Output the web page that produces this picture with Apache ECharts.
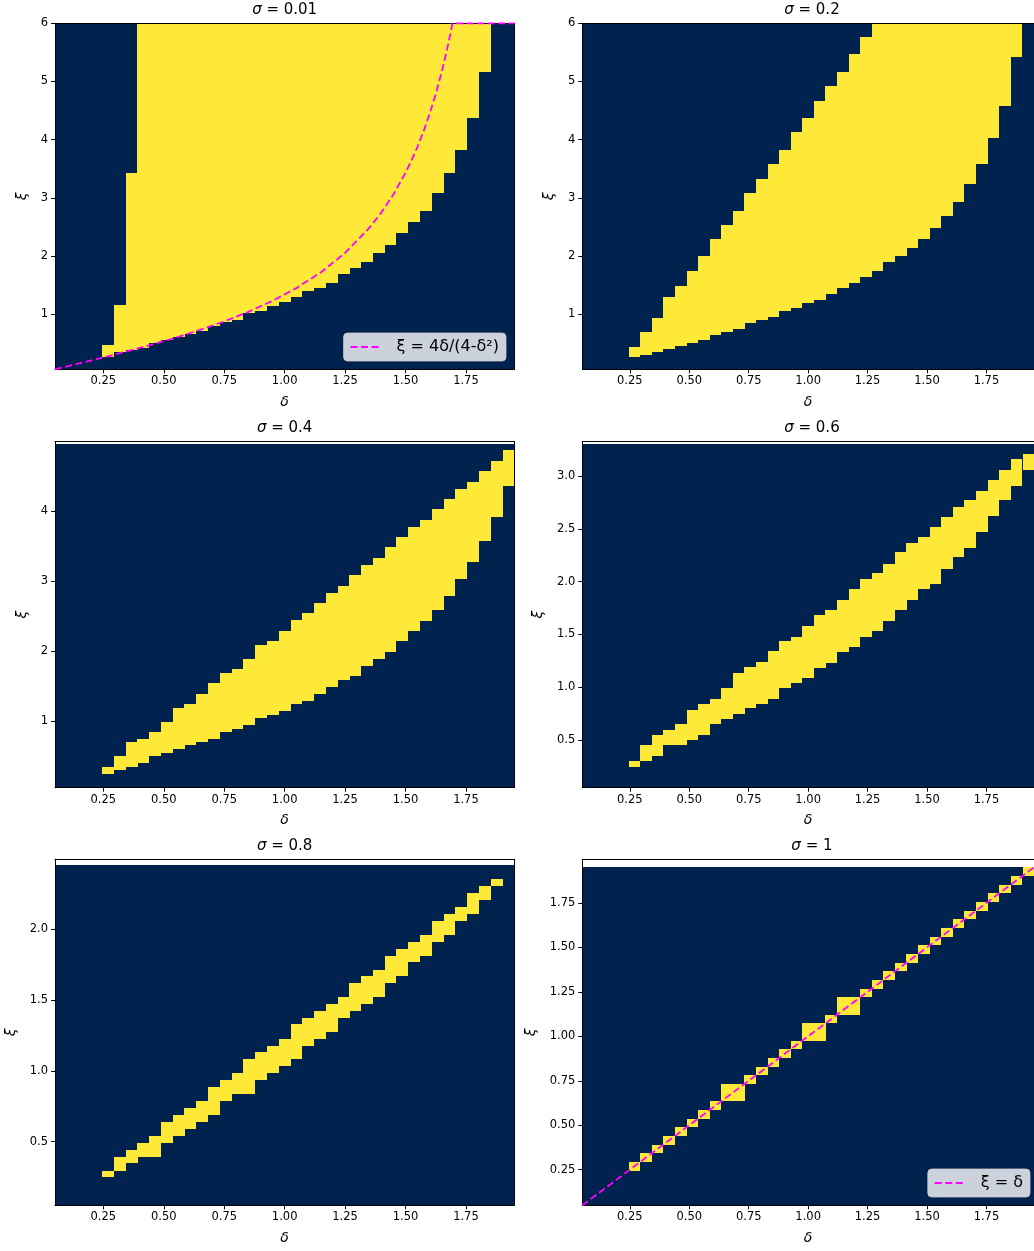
<!DOCTYPE html>
<html>
<head>
<meta charset="utf-8">
<script src="https://cdn.jsdelivr.net/npm/echarts@6/dist/echarts.min.js"></script>
<style>
  html, body { margin: 0; padding: 0; background: #ffffff; }
  #chart { width: 1034px; height: 1251px; }
</style>
</head>
<body>
<div id="chart"></div>
<script>
// Column centres of the delta grid (39 columns spanning 0.05 .. 1.95)
const delta = [0.074, 0.123, 0.172, 0.221, 0.269, 0.318, 0.367, 0.415, 0.464, 0.513,
               0.562, 0.610, 0.659, 0.708, 0.756, 0.805, 0.854, 0.903, 0.951, 1.000,
               1.049, 1.097, 1.146, 1.195, 1.244, 1.292, 1.341, 1.390, 1.438, 1.487,
               1.536, 1.585, 1.633, 1.682, 1.731, 1.779, 1.828, 1.877, 1.926];

const sigmaLabels = ['0.01', '0.2', '0.4', '0.6', '0.8', '1'];

// Feasible band [low, high] of xi for each delta column (null = empty column)
const xiLow001  = [null, null, null, null, 0.26, 0.34, 0.39, 0.42, 0.50, 0.55, 0.60, 0.66, 0.71, 0.79, 0.86, 0.90, 1.01, 1.06, 1.14, 1.20,
                   1.29, 1.40, 1.44, 1.54, 1.69, 1.80, 1.89, 2.05, 2.19, 2.39, 2.59, 2.78, 3.08, 3.43, 3.82, 4.37, 5.17, null, null];
const xiHigh001 = [null, null, null, null, 0.46, 1.15, 3.43, 6, 6, 6, 6, 6, 6, 6, 6, 6, 6, 6, 6, 6,
                   6, 6, 6, 6, 6, 6, 6, 6, 6, 6, 6, 6, 6, 6, 6, 6, 6, null, null];

const xiLow02  = [null, null, null, null, 0.26, 0.30, 0.35, 0.40, 0.45, 0.50, 0.55, 0.645, 0.70, 0.75, 0.85, 0.90, 0.95, 1.05, 1.10, 1.19,
                  1.25, 1.35, 1.44, 1.54, 1.64, 1.74, 1.89, 1.99, 2.14, 2.29, 2.48, 2.68, 2.93, 3.23, 3.58, 4.03, 4.57, 5.42, null];
const xiHigh02 = [null, null, null, null, 0.44, 0.70, 0.94, 1.29, 1.49, 1.74, 1.99, 2.29, 2.535, 2.78, 3.08, 3.33, 3.58, 3.82, 4.13, 4.37,
                  4.67, 4.92, 5.16, 5.47, 5.76, 6, 6, 6, 6, 6, 6, 6, 6, 6, 6, 6, 6, 6, null];

const xiLow04  = [null, null, null, null, 0.25, 0.30, 0.35, 0.40, 0.50, 0.55, 0.60, 0.66, 0.70, 0.75, 0.84, 0.89, 0.94, 1.05, 1.09, 1.14,
                  1.24, 1.29, 1.39, 1.49, 1.59, 1.64, 1.79, 1.89, 1.99, 2.14, 2.28, 2.43, 2.58, 2.78, 3.03, 3.27, 3.57, 3.91, 4.36];
const xiHigh04 = [null, null, null, null, 0.35, 0.50, 0.70, 0.75, 0.84, 0.99, 1.19, 1.24, 1.39, 1.54, 1.69, 1.74, 1.89, 2.08, 2.14, 2.29,
                  2.44, 2.54, 2.68, 2.83, 2.93, 3.08, 3.22, 3.33, 3.48, 3.62, 3.77, 3.87, 4.02, 4.17, 4.31, 4.41, 4.56, 4.71, 4.86];

const xiLow06  = [null, null, null, null, 0.25, 0.30, 0.35, 0.45, 0.45, 0.50, 0.55, 0.65, 0.70, 0.75, 0.80, 0.84, 0.89, 0.99, 1.04, 1.09,
                  1.18, 1.235, 1.335, 1.38, 1.48, 1.53, 1.63, 1.73, 1.83, 1.93, 1.98, 2.12, 2.23, 2.32, 2.47, 2.62, 2.77, 2.91, 3.06];
const xiHigh06 = [null, null, null, null, 0.30, 0.45, 0.55, 0.60, 0.65, 0.79, 0.84, 0.89, 0.99, 1.14, 1.19, 1.24, 1.34, 1.44, 1.48, 1.58,
                  1.68, 1.73, 1.83, 1.93, 2.03, 2.08, 2.17, 2.28, 2.37, 2.42, 2.52, 2.61, 2.71, 2.77, 2.86, 2.96, 3.06, 3.16, 3.21];

const xiLow08  = [null, null, null, null, 0.25, 0.295, 0.347, 0.394, 0.394, 0.493, 0.542, 0.592, 0.639, 0.688, 0.784, 0.836, 0.836, 0.935, 0.982, 1.031,
                  1.081, 1.177, 1.226, 1.276, 1.375, 1.424, 1.473, 1.523, 1.619, 1.668, 1.767, 1.814, 1.913, 1.962, 2.061, 2.108, 2.207, 2.306, null];
const xiHigh08 = [null, null, null, null, 0.295, 0.394, 0.444, 0.493, 0.542, 0.636, 0.686, 0.735, 0.784, 0.883, 0.933, 0.982, 1.081, 1.130, 1.177, 1.226,
                  1.328, 1.375, 1.424, 1.473, 1.523, 1.619, 1.668, 1.715, 1.814, 1.864, 1.913, 1.962, 2.061, 2.108, 2.158, 2.256, 2.306, 2.355, null];

const xiLow1  = [null, null, null, null, 0.245, 0.294, 0.342, 0.391, 0.440, 0.488, 0.537, 0.586, 0.635, 0.635, 0.732, 0.781, 0.829, 0.878, 0.927, 0.976,
                 0.976, 1.073, 1.122, 1.122, 1.219, 1.268, 1.317, 1.365, 1.414, 1.463, 1.512, 1.560, 1.609, 1.658, 1.706, 1.755, 1.804, 1.853, 1.901];
const xiHigh1 = [null, null, null, null, 0.294, 0.342, 0.391, 0.440, 0.488, 0.537, 0.586, 0.635, 0.732, 0.732, 0.781, 0.829, 0.878, 0.927, 0.976, 1.073,
                 1.073, 1.122, 1.219, 1.219, 1.268, 1.317, 1.365, 1.414, 1.463, 1.512, 1.560, 1.609, 1.658, 1.706, 1.755, 1.804, 1.853, 1.901, 1.950];

// Axis limits and extent of the image data
const deltaRange = [0.05, 1.95];
const xiMin = 0.05;
const xiMax = [6, 6, 4.985, 3.325, 2.495, 1.995];
const xiExtentTop = [6, 6, 4.95, 3.30, 2.455, 1.95];

// Tick values
const xTicks = [0.25, 0.50, 0.75, 1.00, 1.25, 1.50, 1.75];
const yTicks001 = [1, 2, 3, 4, 5, 6];
const yTicks02 = [1, 2, 3, 4, 5, 6];
const yTicks04 = [1, 2, 3, 4];
const yTicks06 = [0.5, 1.0, 1.5, 2.0, 2.5, 3.0];
const yTicks08 = [0.5, 1.0, 1.5, 2.0];
const yTicks1 = [0.25, 0.50, 0.75, 1.00, 1.25, 1.50, 1.75];

// Reference curves
const curveName = 'ξ = 4δ/(4-δ²)';
const curveDelta = [0.05, 0.15, 0.25, 0.35, 0.45, 0.55, 0.65, 0.75, 0.85, 0.95, 1.05, 1.15, 1.25, 1.35, 1.40,
                    1.45, 1.50, 1.525, 1.55, 1.575, 1.60, 1.625, 1.65, 1.67, 1.685, 1.694, 1.75, 1.85, 1.95];
const curveXi    = [0.050, 0.151, 0.254, 0.361, 0.474, 0.595, 0.727, 0.873, 1.037, 1.227, 1.450, 1.718, 2.051, 2.480, 2.745,
                    3.057, 3.429, 3.643, 3.881, 4.146, 4.444, 4.781, 5.166, 5.516, 5.805, 6, 6, 6, 6];
const diagName = 'ξ = δ';
const diagDelta = [0.05, 1.95];
const diagXi    = [0.05, 1.95];

// ---- styling / layout ----
const FONT = 'DejaVu Sans';
const YELLOW = '#fee838';
const NAVY = '#00224e';
const MAGENTA = '#ff00ff';
const colLeft = [55, 582.3];
const rowTop = [23.3, 441.7, 859.3];
const plotW = 459.3, plotH = 346;

const panels = [
  { lo: xiLow001, hi: xiHigh001, ticks: yTicks001, dec: 0, nameGap: 26 },
  { lo: xiLow02,  hi: xiHigh02,  ticks: yTicks02,  dec: 0, nameGap: 26 },
  { lo: xiLow04,  hi: xiHigh04,  ticks: yTicks04,  dec: 0, nameGap: 26 },
  { lo: xiLow06,  hi: xiHigh06,  ticks: yTicks06,  dec: 1, nameGap: 37 },
  { lo: xiLow08,  hi: xiHigh08,  ticks: yTicks08,  dec: 1, nameGap: 37 },
  { lo: xiLow1,   hi: xiHigh1,   ticks: yTicks1,   dec: 2, nameGap: 44 }
];

const halfW = (delta[delta.length - 1] - delta[0]) / (delta.length - 1) / 2;

function pixelRect(api, x0, x1, y0, y1, fill) {
  const p = api.coord([x0, y1]);
  const q = api.coord([x1, y0]);
  const L = Math.round(p[0]), R = Math.round(q[0]);
  const T = Math.round(p[1]), B = Math.round(q[1]);
  return { type: 'rect', shape: { x: L, y: T, width: R - L, height: B - T }, style: { fill: fill } };
}

const labelStyle = { color: '#000', fontFamily: FONT, fontSize: 11.5 };
const nameStyle = { color: '#000', fontFamily: FONT, fontSize: 14, fontStyle: 'italic' };

const grid = [], xAxis = [], yAxis = [], series = [], title = [];

panels.forEach(function (pn, i) {
  const left = colLeft[i % 2];
  const top = rowTop[Math.floor(i / 2)];
  grid.push({ left: left, top: top, width: plotW, height: plotH, show: false });

  const common = { gridIndex: i, type: 'value', z: 5, splitLine: { show: false } };
  const lineSt = { show: true, onZero: false, lineStyle: { color: '#000', width: 1 } };

  xAxis.push(Object.assign({}, common, {
    position: 'bottom', min: deltaRange[0], max: deltaRange[1],
    axisLine: lineSt,
    axisTick: { show: true, length: 4, inside: false, customValues: xTicks, lineStyle: { color: '#000', width: 1 } },
    axisLabel: Object.assign({ show: true, margin: 6, customValues: xTicks,
      formatter: function (v) { return v.toFixed(2); } }, labelStyle),
    name: 'δ', nameLocation: 'middle', nameGap: 26, nameTextStyle: nameStyle, nameMoveOverlap: false
  }));
  xAxis.push(Object.assign({}, common, {
    position: 'top', min: deltaRange[0], max: deltaRange[1],
    axisLine: lineSt, axisTick: { show: false }, axisLabel: { show: false }
  }));

  yAxis.push(Object.assign({}, common, {
    position: 'left', min: xiMin, max: xiMax[i],
    axisLine: lineSt,
    axisTick: { show: true, length: 4, inside: false, customValues: pn.ticks, lineStyle: { color: '#000', width: 1 } },
    axisLabel: Object.assign({ show: true, margin: 7, customValues: pn.ticks,
      formatter: function (v) { return v.toFixed(pn.dec); } }, labelStyle),
    name: 'ξ', nameLocation: 'middle', nameRotate: 90, nameGap: pn.nameGap, nameTextStyle: nameStyle, nameMoveOverlap: false
  }));
  yAxis.push(Object.assign({}, common, {
    position: 'right', min: xiMin, max: xiMax[i],
    axisLine: lineSt, axisTick: { show: false }, axisLabel: { show: false }
  }));

  // dark background covering the image extent
  series.push({
    type: 'custom', xAxisIndex: 2 * i, yAxisIndex: 2 * i, z: 1, silent: true,
    data: [[deltaRange[0], deltaRange[1], xiMin, xiExtentTop[i]]],
    renderItem: function (params, api) {
      return pixelRect(api, api.value(0), api.value(1), api.value(2), api.value(3), NAVY);
    }
  });

  // feasible cells, one rectangle per delta column
  const cells = [];
  delta.forEach(function (d, k) {
    if (pn.lo[k] != null && pn.hi[k] != null) cells.push([d, pn.lo[k], pn.hi[k]]);
  });
  series.push({
    type: 'custom', xAxisIndex: 2 * i, yAxisIndex: 2 * i, z: 2, silent: true,
    encode: { x: 0, y: [1, 2] },
    data: cells,
    renderItem: function (params, api) {
      const d = api.value(0);
      return pixelRect(api, d - halfW, d + halfW, api.value(1), api.value(2), YELLOW);
    }
  });

  title.push({
    left: left + plotW / 2, top: top - 21, textAlign: 'center', padding: 0,
    text: '{s|σ}{n| = ' + sigmaLabels[i] + '}',
    textStyle: {
      fontWeight: 'normal',
      rich: {
        s: { fontFamily: FONT, fontSize: 15, fontStyle: 'italic', fontWeight: 'normal', color: '#000' },
        n: { fontFamily: FONT, fontSize: 15, fontWeight: 'normal', color: '#000' }
      }
    }
  });
});

function refLine(name, xs, ys, gi) {
  return {
    type: 'line', name: name, xAxisIndex: 2 * gi, yAxisIndex: 2 * gi, z: 10,
    data: xs.map(function (x, j) { return [x, ys[j]]; }),
    symbol: 'none', showSymbol: false, clip: false, smooth: false, silent: true,
    lineStyle: { color: MAGENTA, width: 1.8, type: [7, 3.5] },
    itemStyle: { color: MAGENTA }
  };
}
series.push(refLine(curveName, curveDelta, curveXi, 0));
series.push(refLine(diagName, diagDelta, diagXi, 5));

const legendBase = {
  orient: 'vertical', padding: [6, 7, 6, 6], itemWidth: 29, itemHeight: 12,
  backgroundColor: 'rgba(255,255,255,0.8)', borderColor: 'rgba(204,204,204,0.8)', borderWidth: 1, borderRadius: 4,
  textStyle: { fontFamily: FONT, fontSize: 16, color: '#000', padding: [0, 0, 0, 12] },
  itemStyle: { color: 'rgba(0,0,0,0)', borderWidth: 0, opacity: 0 },
  lineStyle: { color: MAGENTA, width: 1.8, type: [7, 3.5] },
  selectedMode: false, z: 20
};
const legend = [
  Object.assign({}, legendBase, { data: [curveName], right: 1034 - 506, top: 333 }),
  Object.assign({}, legendBase, { data: [diagName], right: 4, top: 1169 })
];

const chart = echarts.init(document.getElementById('chart'), null, { renderer: 'canvas' });
chart.setOption({
  backgroundColor: '#ffffff',
  animation: false,
  title: title,
  legend: legend,
  grid: grid,
  xAxis: xAxis,
  yAxis: yAxis,
  series: series
});
</script>
</body>
</html>
